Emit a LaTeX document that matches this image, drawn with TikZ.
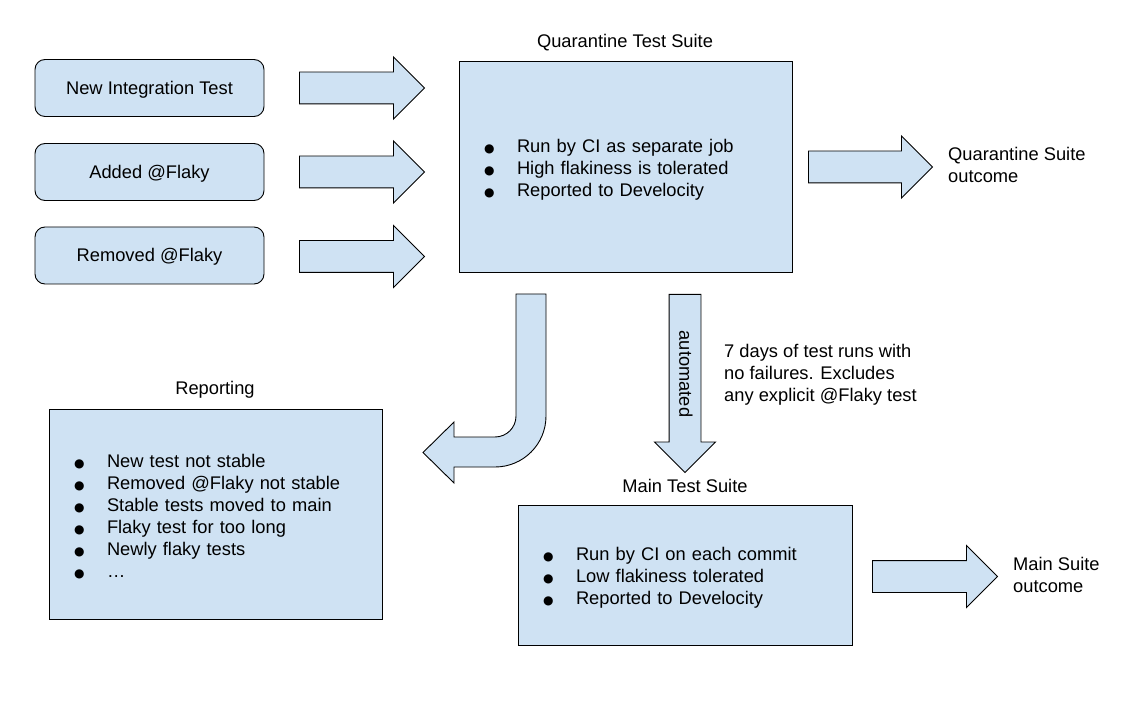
\documentclass[tikz,border=0pt]{standalone}
\usepackage{fontspec}
\setmainfont{Liberation Sans}
\newfontfamily\symfont{DejaVu Sans}
\usetikzlibrary{shapes.arrows}
\definecolor{boxblue}{HTML}{CFE2F3}
\newcommand{\blt}{\makebox[33pt][l]{\symfont\fontsize{12}{12}\selectfont ●}}

\begin{document}
\begin{tikzpicture}[x=1pt,y=-1pt,
  every node/.style={font=\fontsize{18.3}{22}\selectfont},
  fatarrow/.style={single arrow,draw,fill=boxblue,line width=0.9pt,inner xsep=0pt,inner ysep=15.5pt,single arrow head extend=15pt,single arrow tip angle=90,anchor=tail},
  suite/.style={draw,fill=boxblue,line width=0.9pt,inner xsep=25pt,align=left},
  testbox/.style={draw,fill=boxblue,line width=0.9pt,rounded corners=10pt,minimum width=229pt,minimum height=57pt,text height=13pt,text depth=0pt}]
  \useasboundingbox (0,0) rectangle (1143,719);
  % incoming tests
  \node[testbox] (new) at (149.5,88) {New Integration Test};
  \node[testbox] (added) at (149.5,172) {Added @Flaky};
  \node[testbox] (removed) at (149.5,255.5) {Removed @Flaky};
  \node[fatarrow,minimum height=125pt] (a1) at (299,88) {};
  \node[fatarrow,minimum height=125pt] (a2) at (299,172) {};
  \node[fatarrow,minimum height=125pt] (a3) at (299,256.5) {};
  % quarantine suite
  \node (qtitle) at (625,43) {Quarantine Test Suite};
  \node[suite,text width=283pt,minimum height=211pt] (quar) at (625.5,166.5) {\rule{0pt}{19.5pt}\blt Run by CI as separate job\\ \blt High flakiness is tolerated\\ \blt Reported to Develocity};
  \node[fatarrow,minimum height=124pt] (aq) at (808,167) {};
  \node[anchor=west,align=left,inner sep=0pt] (qout) at (948,165) {Quarantine Suite\\outcome};
  % to reporting
  \draw[fill=boxblue,line width=0.9pt] (516,294) -- (516,416) .. controls (516,427.6) and (506.6,437) .. (495,437) -- (454,437) -- (454,422) -- (423,452.5) -- (454,483) -- (454,467) -- (495,467) .. controls (523.2,467) and (546,444.2) .. (546,416) -- (546,294) -- cycle;
  \node (rtitle) at (215,390) {Reporting};
  \node[suite,text width=283pt,minimum height=210pt] (rep) at (215.5,514) {\rule{0pt}{17.5pt}\blt New test not stable\\ \blt Removed @Flaky not stable\\ \blt Stable tests moved to main\\ \blt Flaky test for too long\\ \blt Newly flaky tests\\ \blt …};
  % to main
  \node[fatarrow,minimum height=178pt,inner xsep=15.5pt,inner ysep=0pt,single arrow head extend=14.5pt,shape border rotate=270] (ad) at (685,294) {};
  \node[rotate=-90] (auto) at (686,374) {automated};
  \node[anchor=west,align=left,inner sep=0pt] (rule) at (724,375) {7 days of test runs with\\no failures. Excludes\\any explicit @Flaky test};
  \node (mtitle) at (685,486) {Main Test Suite};
  \node[suite,text width=284pt,minimum height=140pt] (main) at (685,575) {\rule{0pt}{19.5pt}\blt Run by CI on each commit\\ \blt Low flakiness tolerated\\ \blt Reported to Develocity};
  \node[fatarrow,minimum height=125pt] (am) at (872,576.5) {};
  \node[anchor=west,align=left,inner sep=0pt] (mout) at (1013,575) {Main Suite\\outcome};
\end{tikzpicture}
\end{document}
